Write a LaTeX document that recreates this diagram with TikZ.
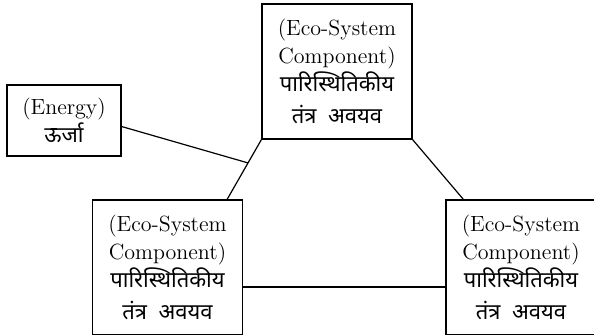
\documentclass[tikz,border=0pt]{standalone}
\usepackage{fontspec}
\newfontfamily\hindi[Script=Devanagari]{Noto Sans}
\usetikzlibrary{calc}
\begin{document}
\begin{tikzpicture}[x=0.5pt,y=-0.5pt]
      \newcommand{\compw}[0]{75pt}
      \newcommand{\comph}[0]{67.5pt}
      
      \tikzstyle{box}=[
        draw,
        rectangle,
        align=center,
        inner sep=0pt,
        line width=0.6pt,
        font=\fontsize{11}{14}\selectfont
      ]
      \tikzstyle{component}=[box, minimum width=\compw, minimum height=\comph]
      \tikzstyle{line} = [line width=0.6pt, draw=black]
      
      \useasboundingbox (0,0) rectangle (594,334);
      \clip (0,0) rectangle (594,334);
      
      \node[component] (top)    at (337  , 71.5)  {(Eco-System\\Component)\\{\hindi पारिस्थितिकीय}\\[2pt]{\hindi तंत्र\ \ अवयव}};
      \node[component] (left)   at (167.5, 267.5) {(Eco-System\\Component)\\{\hindi पारिस्थितिकीय}\\[2pt]{\hindi तंत्र\ \ अवयव}};
      \node[component] (right)  at (521  , 267.5) {(Eco-System\\Component)\\{\hindi पारिस्थितिकीय}\\[2pt]{\hindi तंत्र\ \ अवयव}};
      \node[box, minimum width=57pt, minimum height=35.5pt] (energy) at (64, 120.5) {(Energy)\\{\hindi ऊर्जा}};
      
      \coordinate (lefttop)  at ([xshift=-8pt]left.north east);
      \coordinate (righttop) at ([xshift=9pt]right.north west);
      \coordinate (joint)    at ($(top.south west)!0.39!(lefttop)$);
      
      \draw[line] (top.south west) -- (lefttop);
      \draw[line] (top.south east) -- (righttop);
      \draw[line] ([yshift=-9.75pt]left.east) -- ([yshift=-9.75pt]right.west);
      \draw[line] ([yshift=-3pt]energy.east) -- (joint);
    \end{tikzpicture}
\end{document}
